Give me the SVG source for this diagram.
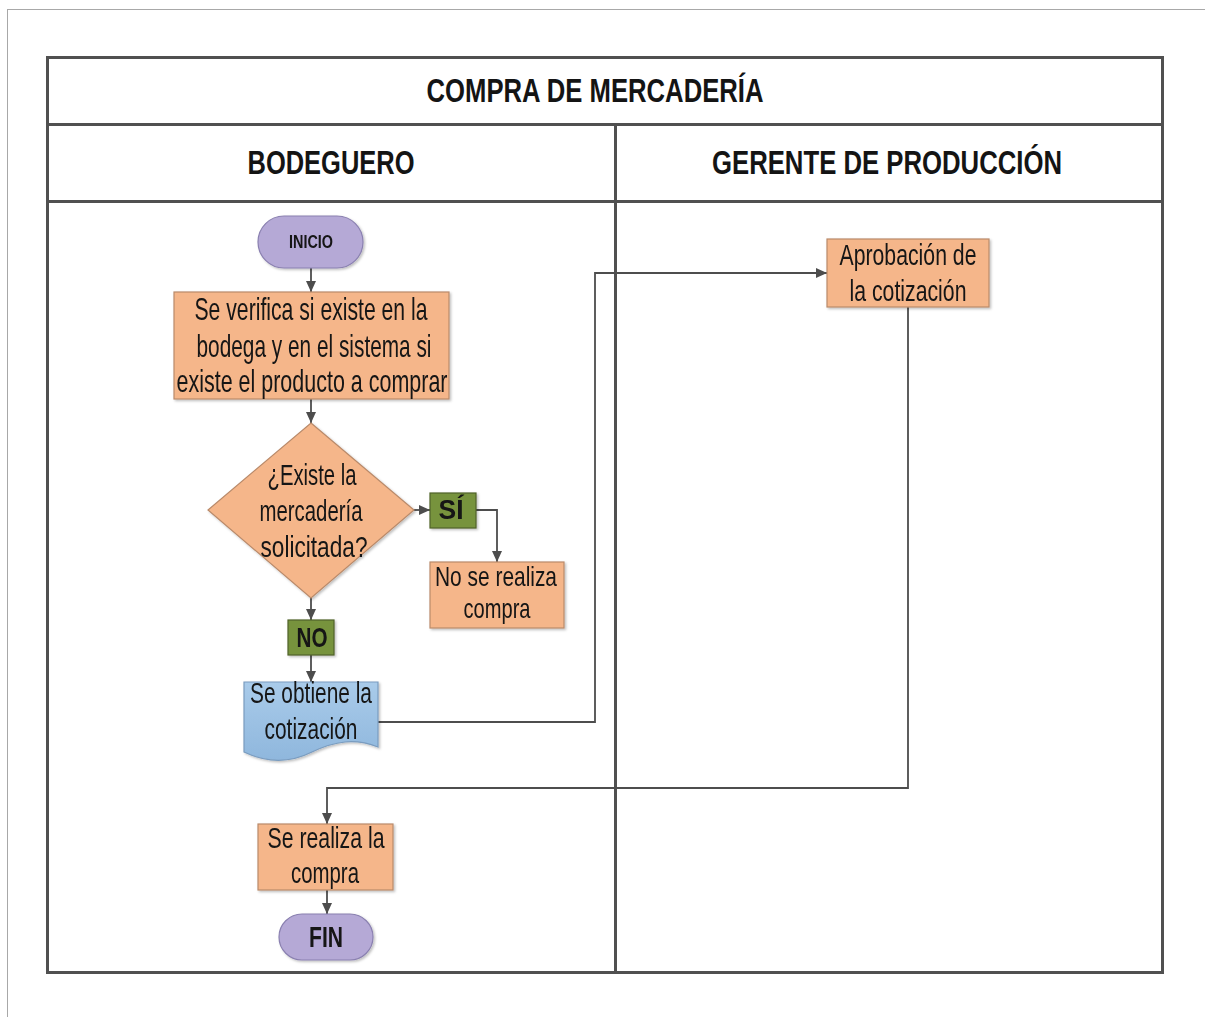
<svg xmlns="http://www.w3.org/2000/svg" width="1205" height="1017" viewBox="0 0 1205 1017">
<style>
  .t { font-family: "Liberation Sans Narrow", "Liberation Sans", Arial, sans-serif; fill: #141414; }
  .b { font-weight: bold; }
  .grid { stroke: #505050; stroke-width: 3; fill: none; }
  .proc { fill: #f5b68a; stroke: #b98a6a; stroke-width: 1.2; }
  .term { fill: #b5a9d6; stroke: #8a80b0; stroke-width: 1.2; }
  .dec { fill: #77933c; stroke: #4f6228; stroke-width: 1.2; }
  .doc { fill: url(#blue); stroke: #7a9cbf; stroke-width: 1.2; }
  .con { fill: none; stroke: #4d4d4d; stroke-width: 1.8; }
</style>
<defs>
  <marker id="ah" markerUnits="userSpaceOnUse" markerWidth="11" markerHeight="10" refX="11" refY="5" orient="auto">
    <path d="M0,0 L11,5 L0,10 z" fill="#4d4d4d"/>
  </marker>
  <linearGradient id="blue" x1="0" y1="0" x2="0" y2="1">
    <stop offset="0" stop-color="#a9cbea"/>
    <stop offset="1" stop-color="#8fb7dd"/>
  </linearGradient>
  <filter id="sh" x="-10%" y="-10%" width="130%" height="130%">
    <feDropShadow dx="1.5" dy="1.5" stdDeviation="1.2" flood-color="#000" flood-opacity="0.25"/>
  </filter>
</defs>
<rect width="1205" height="1017" fill="#ffffff"/>
<g id="page">
  <line x1="7" y1="9.5" x2="1205" y2="9.5" stroke="#a8a8a8" stroke-width="1"/>
  <line x1="7.5" y1="9" x2="7.5" y2="1017" stroke="#a8a8a8" stroke-width="1"/>
</g>
<g id="pool">
  <rect class="grid" x="47.5" y="57.5" width="1115" height="915"/>
  <line class="grid" x1="47" y1="124.5" x2="1163" y2="124.5"/>
  <line class="grid" x1="47" y1="201.5" x2="1163" y2="201.5"/>
  <line class="grid" x1="615.5" y1="124" x2="615.5" y2="973"/>
  <text class="t b" x="595" y="102" font-size="33" text-anchor="middle" textLength="337" lengthAdjust="spacingAndGlyphs">COMPRA DE MERCADERÍA</text>
  <text class="t b" x="331" y="174" font-size="33" text-anchor="middle" textLength="167" lengthAdjust="spacingAndGlyphs">BODEGUERO</text>
  <text class="t b" x="887" y="174" font-size="33" text-anchor="middle" textLength="350" lengthAdjust="spacingAndGlyphs">GERENTE DE PRODUCCIÓN</text>
</g>
<g id="connectors">
  <path class="con" d="M311,268 V292" marker-end="url(#ah)"/>
  <path class="con" d="M311,399 V423" marker-end="url(#ah)"/>
  <path class="con" d="M414,510 H430" marker-end="url(#ah)"/>
  <path class="con" d="M476,510 H497 V562" marker-end="url(#ah)"/>
  <path class="con" d="M311,598 V620" marker-end="url(#ah)"/>
  <path class="con" d="M311,655 V682" marker-end="url(#ah)"/>
  <path class="con" d="M378,722 H595 V273 H827" marker-end="url(#ah)"/>
  <path class="con" d="M908,307 V788 H327 V824" marker-end="url(#ah)"/>
  <path class="con" d="M327,890 V914" marker-end="url(#ah)"/>
</g>
<g id="inicio" filter="url(#sh)">
  <rect class="term" x="258" y="216" width="105" height="52" rx="26" ry="26"/>
  <text class="t b" x="311" y="248" font-size="18" text-anchor="middle" textLength="44" lengthAdjust="spacingAndGlyphs">INICIO</text>
</g>
<g id="verificar" filter="url(#sh)">
  <rect class="proc" x="174" y="292" width="275" height="107"/>
  <text class="t" x="311" y="320" font-size="32" text-anchor="middle" textLength="233" lengthAdjust="spacingAndGlyphs">Se verifica si existe en la</text>
  <text class="t" x="314" y="357" font-size="32" text-anchor="middle" textLength="235" lengthAdjust="spacingAndGlyphs">bodega y en el sistema si</text>
  <text class="t" x="312" y="392" font-size="32" text-anchor="middle" textLength="271" lengthAdjust="spacingAndGlyphs">existe el producto a comprar</text>
</g>
<g id="decision" filter="url(#sh)">
  <polygon class="proc" points="311,423 414,510 311,598 208,510"/>
  <text class="t" x="312" y="485" font-size="29" text-anchor="middle" textLength="89" lengthAdjust="spacingAndGlyphs">¿Existe la</text>
  <text class="t" x="311" y="521" font-size="29" text-anchor="middle" textLength="103" lengthAdjust="spacingAndGlyphs">mercadería</text>
  <text class="t" x="314" y="557" font-size="29" text-anchor="middle" textLength="107" lengthAdjust="spacingAndGlyphs">solicitada?</text>
</g>
<g id="si" filter="url(#sh)">
  <rect class="dec" x="430" y="493" width="46" height="35"/>
  <text class="t b" x="451" y="519" font-size="28" text-anchor="middle" textLength="25" lengthAdjust="spacingAndGlyphs">SÍ</text>
</g>
<g id="no-compra" filter="url(#sh)">
  <rect class="proc" x="430" y="562" width="134" height="66"/>
  <text class="t" x="496" y="586" font-size="28" text-anchor="middle" textLength="122" lengthAdjust="spacingAndGlyphs">No se realiza</text>
  <text class="t" x="497" y="618" font-size="28" text-anchor="middle" textLength="67" lengthAdjust="spacingAndGlyphs">compra</text>
</g>
<g id="no" filter="url(#sh)">
  <rect class="dec" x="288" y="620" width="46" height="35"/>
  <text class="t b" x="312" y="647" font-size="28" text-anchor="middle" textLength="31" lengthAdjust="spacingAndGlyphs">NO</text>
</g>
<g id="cotizacion" filter="url(#sh)">
  <path class="doc" d="M244,682 H378 V747 C355,738 335,741 312,752 C288,764 265,762 244,752 Z"/>
  <text class="t" x="311" y="703" font-size="29" text-anchor="middle" textLength="122" lengthAdjust="spacingAndGlyphs">Se obtiene la</text>
  <text class="t" x="311" y="739" font-size="29" text-anchor="middle" textLength="93" lengthAdjust="spacingAndGlyphs">cotización</text>
</g>
<g id="aprobacion" filter="url(#sh)">
  <rect class="proc" x="827" y="239" width="162" height="68"/>
  <text class="t" x="908" y="265" font-size="29" text-anchor="middle" textLength="137" lengthAdjust="spacingAndGlyphs">Aprobación de</text>
  <text class="t" x="908" y="301" font-size="29" text-anchor="middle" textLength="117" lengthAdjust="spacingAndGlyphs">la cotización</text>
</g>
<g id="realiza-compra" filter="url(#sh)">
  <rect class="proc" x="258" y="824" width="135" height="66"/>
  <text class="t" x="326" y="848" font-size="29" text-anchor="middle" textLength="117" lengthAdjust="spacingAndGlyphs">Se realiza la</text>
  <text class="t" x="325" y="883" font-size="29" text-anchor="middle" textLength="68" lengthAdjust="spacingAndGlyphs">compra</text>
</g>
<g id="fin" filter="url(#sh)">
  <rect class="term" x="279" y="914" width="94" height="46" rx="23" ry="23"/>
  <text class="t b" x="326" y="947" font-size="29" text-anchor="middle" textLength="34" lengthAdjust="spacingAndGlyphs">FIN</text>
</g>
</svg>
